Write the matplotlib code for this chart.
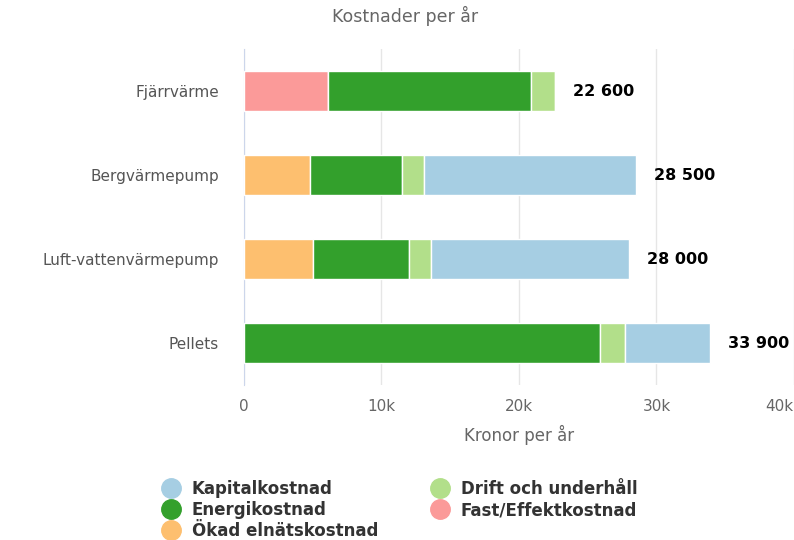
import matplotlib.pyplot as plt
from matplotlib.lines import Line2D
from matplotlib.transforms import ScaledTranslation

# Data (kronor per år)
kategorier = ['Fjärrvärme', 'Bergvärmepump', 'Luft-vattenvärmepump', 'Pellets']
fast_effekt = [6100, 0, 0, 0]
okad_elnat = [0, 4800, 5000, 0]
energi = [14800, 6700, 7000, 25900]
drift = [1700, 1600, 1600, 1800]
kapital = [0, 15400, 14400, 6200]
totaler = ['22 600', '28 500', '28 000', '33 900']

serier = [
    ('Fast/Effektkostnad', fast_effekt, '#fb9a99'),
    ('Ökad elnätskostnad', okad_elnat, '#fdbf6f'),
    ('Energikostnad', energi, '#33a02c'),
    ('Drift och underhåll', drift, '#b2df8a'),
    ('Kapitalkostnad', kapital, '#a6cee3'),
]

fig = plt.figure(figsize=(7.94, 5.40), dpi=100)
ax = fig.add_axes([0.307, 0.287, 0.693, 0.622])

y = list(range(len(kategorier)))
left = [0] * len(kategorier)
for namn, vals, farg in serier:
    ax.barh(y, vals, left=left, height=0.47, color=farg, edgecolor='white', linewidth=1, zorder=3)
    left = [a + b for a, b in zip(left, vals)]

# Summor till höger om staplarna
for yi, tot, txt in zip(y, left, totaler):
    ax.annotate(txt, xy=(tot, yi), xytext=(13, 0), textcoords='offset points',
                ha='left', va='center', fontsize=11.5, fontweight='bold', color='black')

ax.set_xlim(0, 40000)
ax.set_ylim(3.5, -0.5)
ax.set_yticks(y)
ax.set_yticklabels(kategorier, fontsize=11, color='#555555')
ax.set_xticks([0, 10000, 20000, 30000, 40000])
ax.set_xticklabels(['0', '10k', '20k', '30k', '40k'], fontsize=11, color='#666666')
ax.tick_params(axis='y', length=0, pad=18)
ax.tick_params(axis='x', length=0, pad=10)
ax.grid(axis='x', color='#e6e6e6', linewidth=1, zorder=0)
for s in ['top', 'right', 'bottom']:
    ax.spines[s].set_visible(False)
ax.spines['left'].set_color('#ccd6eb')
ax.set_xlabel('Kronor per år', fontsize=12, color='#666666', labelpad=8)

# sista etiketten flyttas in så den syns
sista = ax.get_xticklabels()[-1]
sista.set_transform(sista.get_transform() + ScaledTranslation(-0.15, 0, fig.dpi_scale_trans))

fig.text(0.51, 0.97, 'Kostnader per år', ha='center', va='center', fontsize=12.5, color='#666666')

# Förklaring
ordning = ['Kapitalkostnad', 'Energikostnad', 'Ökad elnätskostnad', 'Drift och underhåll', 'Fast/Effektkostnad']
farger = {n: f for n, _, f in serier}
handles = [Line2D([], [], marker='o', linestyle='', markersize=14, color=farger[n]) for n in ordning]
leg = fig.legend(handles, ordning, ncol=2, loc='upper left', bbox_to_anchor=(0.205, 0.111),
                 frameon=False, fontsize=12, handletextpad=0.75, columnspacing=3.2,
                 labelspacing=0.18, handlelength=1.0, borderaxespad=0, borderpad=0)
for t in leg.get_texts():
    t.set_fontweight('bold')
    t.set_color('#333333')

fig.savefig('out.png', dpi=100)
